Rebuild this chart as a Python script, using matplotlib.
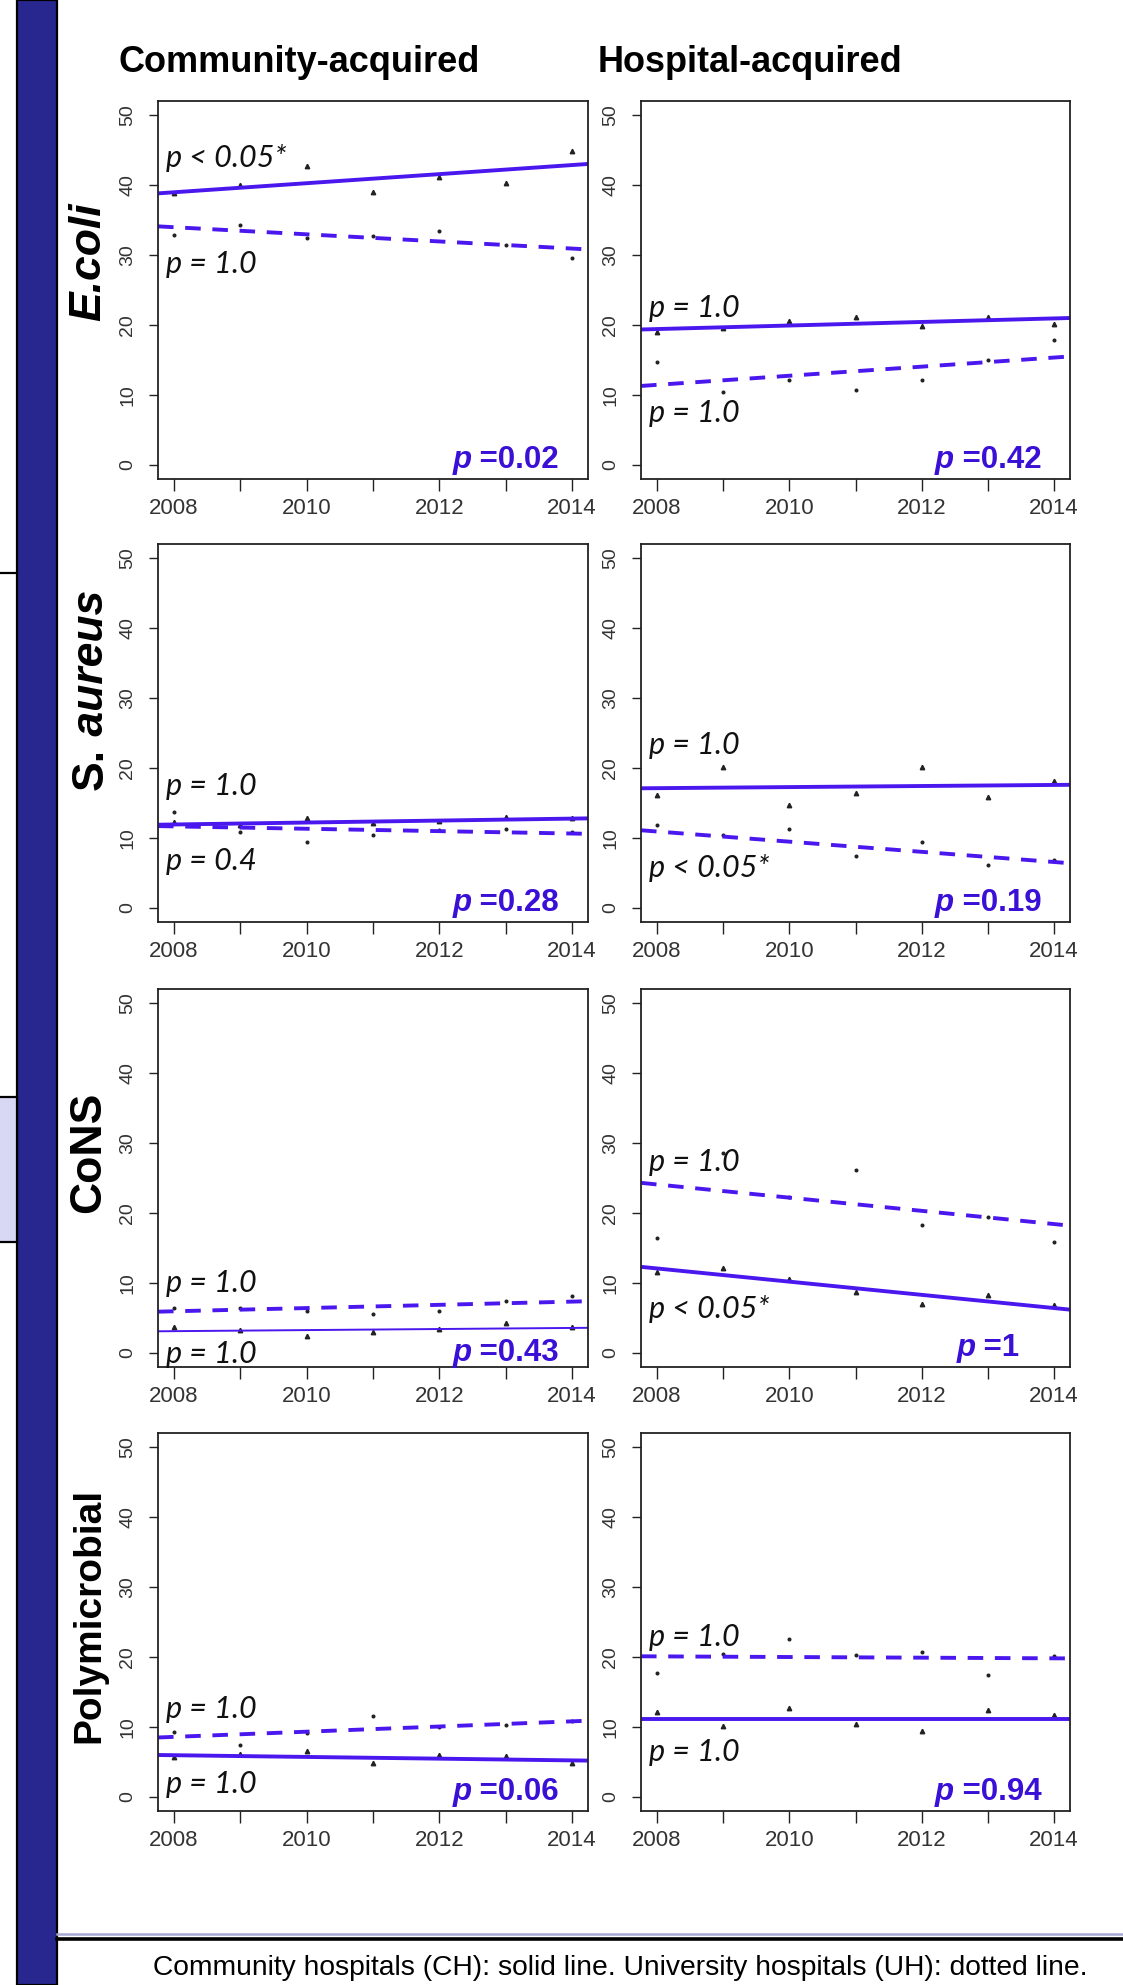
import matplotlib
matplotlib.use("Agg")
import matplotlib.pyplot as plt
from matplotlib import font_manager
from matplotlib.patches import Rectangle
from matplotlib.lines import Line2D
from matplotlib.offsetbox import TextArea, HPacker, AnchoredOffsetbox

W, H = 1123, 1985

years = [2008, 2009, 2010, 2011, 2012, 2013, 2014]
organisms = ["E.coli", "S. aureus", "CoNS", "Polymicrobial"]

# community-acquired, CH = community hospitals (triangles), UH = university hospitals (dots)
ca_ch = [[38.8, 40.0, 42.7, 39.0, 41.1, 40.3, 44.9],
         [12.3, 11.9, 12.9, 12.1, 12.5, 13.0, 12.9],
         [3.7, 3.3, 2.4, 3.0, 3.4, 4.3, 3.7],
         [5.7, 6.2, 6.6, 4.9, 6.0, 5.9, 4.9]]
ca_uh = [[32.8, 34.3, 32.4, 32.7, 33.4, 31.4, 29.6],
         [13.7, 10.8, 9.4, 10.4, 11.2, 11.3, 10.8],
         [6.5, 6.4, 6.0, 5.6, 6.0, 7.5, 8.2],
         [9.3, 7.4, 9.1, 11.6, 10.0, 10.3, 10.8]]
# regression lines, value in 2008 and in 2014
ca_ch_fit = [(38.96, 42.85), (11.93, 12.77), (3.12, 3.58), (5.97, 5.23)]
ca_uh_fit = [(33.97, 30.92), (11.66, 10.64), (5.96, 7.34), (8.59, 10.81)]
ca_ch_note = ["p < 0.05*", "p = 1.0", "p = 1.0", "p = 1.0"]
ca_uh_note = ["p = 1.0", "p = 0.4", "p = 1.0", "p = 1.0"]
ca_p = ["0.02", "0.28", "0.43", "0.06"]

# hospital-acquired
ha_ch = [[18.95, 19.6, 20.5, 21.2, 19.9, 21.2, 20.2],
         [16.2, 20.2, 14.7, 16.5, 20.2, 15.9, 18.1],
         [11.6, 12.1, 10.6, 8.7, 7.0, 8.3, 6.8],
         [12.1, 10.1, 12.7, 10.5, 9.4, 12.5, 11.7]]
ha_uh = [[14.7, 10.4, 12.2, 10.7, 12.2, 15.0, 17.8],
         [11.9, 10.5, 11.3, 7.4, 9.4, 6.2, 6.9],
         [16.4, 28.6, 22.3, 26.2, 18.3, 19.5, 15.8],
         [17.7, 20.4, 22.6, 20.3, 20.7, 17.4, 20.1]]
ha_ch_fit = [(19.42, 20.94), (17.12, 17.58), (12.08, 6.42), (11.2, 11.2)]
ha_uh_fit = [(11.45, 15.35), (10.93, 6.57), (24.08, 18.42), (20.09, 19.81)]
ha_ch_note = ["p = 1.0", "p = 1.0", "p < 0.05*", "p = 1.0"]
ha_uh_note = ["p = 1.0", "p < 0.05*", "p = 1.0", "p = 1.0"]
ha_p = ["0.42", "0.19", "1", "0.94"]

# where the p notes sit (baseline, data units)
ca_ch_note_y = [42.6, 16.1, -1.4, 0.6]
ca_uh_note_y = [27.4, 5.4, 8.7, 11.3]
ha_ch_note_y = [21.2, 22.0, 5.0, 5.1]
ha_uh_note_y = [6.2, 4.4, 26.0, 21.6]
ca_p_y = [-0.3, -0.3, -1.0, -0.3]
ha_p_y = [-0.3, -0.3, -0.3, -0.3]

installed = {f.name for f in font_manager.fontManager.ttflist}


def pick(*names):
    for n in names:
        if n in installed:
            return n
    return "DejaVu Sans"


SANS = pick("Liberation Sans", "Arial", "DejaVu Sans")
NARROW = pick("Liberation Sans Narrow", "Liberation Sans")
HAS_NARROW = NARROW == "Liberation Sans Narrow"
NOTE = pick("Lato", "Open Sans", "Liberation Sans")

LINE = "#4A17EE"
PCOL = "#3A0FD6"
INK = "#222222"

fig = plt.figure(figsize=(W / 100, H / 100), dpi=100)


def box(left, top, width, height):
    return [left / W, 1 - (top + height) / H, width / W, height / H]


col_left = [158, 641]
col_width = [430, 429]
row_top = [101, 544, 989, 1433]
row_h = 378


def overall_p(ax, value, y):
    size = 27 if HAS_NARROW else 22.5
    p = TextArea("p", textprops=dict(family=NARROW, weight="bold", style="italic",
                                     size=size, color=PCOL))
    rest = TextArea(" =" + value, textprops=dict(family=NARROW, weight="bold",
                                                 size=size, color=PCOL))
    pack = HPacker(children=[p, rest], align="baseline", pad=0, sep=0)
    # anchor at the bottom of the descender, i.e. a bit under the baseline
    anc = AnchoredOffsetbox(loc="lower center", child=pack, pad=0, borderpad=0,
                            frameon=False, bbox_to_anchor=(2013.0, y - 1.1),
                            bbox_transform=ax.transData)
    ax.add_artist(anc)


def panel(ax, ch, uh, ch_fit, uh_fit, ch_note, uh_note, ch_y, uh_y, pval, p_y, thin=False):
    ax.set_xlim(2007.76, 2014.24)
    ax.set_ylim(-2, 52)
    ax.plot(years, ch, linestyle="none", marker="^", ms=3.2, color=INK)
    ax.plot(years, uh, linestyle="none", marker="o", ms=1.9, color=INK)
    ax.axline((years[0], ch_fit[0]), (years[-1], ch_fit[1]), color=LINE,
              lw=1.4 if thin else 2.8)
    ax.axline((years[0], uh_fit[0]), (years[-1], uh_fit[1]), color=LINE,
              lw=2.8, dashes=(4, 3))
    for txt, yy in ((ch_note, ch_y), (uh_note, uh_y)):
        ax.text(2007.88, yy, txt, family=NOTE, style="italic", fontsize=22,
                ha="left", va="baseline", color="#111111")
    overall_p(ax, pval, p_y)

    ax.set_xticks(years)
    ax.set_xticklabels([str(y) if y % 2 == 0 else "" for y in years],
                       family=NARROW, fontsize=20 if HAS_NARROW else 16)
    ax.set_yticks([0, 10, 20, 30, 40, 50])
    ax.set_yticklabels(["0", "10", "20", "30", "40", "50"], rotation=90,
                       va="center", family=SANS, fontsize=14)
    ax.tick_params(axis="x", length=8.5, width=1.0, pad=5, color=INK, labelcolor="#333333")
    ax.tick_params(axis="y", length=6.5, width=1.0, pad=9, color=INK, labelcolor="#333333")
    for s in ax.spines.values():
        s.set_linewidth(1.3)
        s.set_color(INK)


for r in range(4):
    ax_ca = fig.add_axes(box(col_left[0], row_top[r], col_width[0], row_h))
    panel(ax_ca, ca_ch[r], ca_uh[r], ca_ch_fit[r], ca_uh_fit[r], ca_ch_note[r],
          ca_uh_note[r], ca_ch_note_y[r], ca_uh_note_y[r], ca_p[r], ca_p_y[r],
          thin=(r == 2))
    ax_ha = fig.add_axes(box(col_left[1], row_top[r], col_width[1], row_h))
    panel(ax_ha, ha_ch[r], ha_uh[r], ha_ch_fit[r], ha_uh_fit[r], ha_ch_note[r],
          ha_uh_note[r], ha_ch_note_y[r], ha_uh_note_y[r], ha_p[r], ha_p_y[r])

# column titles
fig.text(299 / W, 1 - 72 / H, "Community-acquired", family=SANS, weight="bold",
         fontsize=26, ha="center", va="baseline")
fig.text(750 / W, 1 - 72 / H, "Hospital-acquired", family=SANS, weight="bold",
         fontsize=26, ha="center", va="baseline")

# row titles
fig.text(89 / W, 1 - 262 / H, organisms[0], family=SANS, weight="bold", style="italic",
         fontsize=32, rotation=90, ha="center", va="center")
fig.text(103 / W, 1 - 748 / H, "S.", family=SANS, weight="bold", fontsize=32,
         rotation=90, rotation_mode="anchor", ha="right", va="baseline")
fig.text(103 / W, 1 - 748 / H, " aureus", family=SANS, weight="bold", style="italic",
         fontsize=32, rotation=90, rotation_mode="anchor", ha="left", va="baseline")
fig.text(89 / W, 1 - 1152 / H, organisms[2], family=SANS, weight="bold",
         fontsize=32, rotation=90, ha="center", va="center")
fig.text(89 / W, 1 - 1615 / H, organisms[3], family=SANS, weight="bold",
         fontsize=28, rotation=90, ha="center", va="center")

# slide furniture on the left and the footer rule
fig.patches.append(Rectangle((17 / W, 0), 40 / W, 1, transform=fig.transFigure,
                             facecolor="#27278F", edgecolor="black", lw=1.6))
fig.patches.append(Rectangle((-5 / W, 1 - 1242 / H), 22 / W, 145 / H,
                             transform=fig.transFigure, facecolor="#D8D8F4",
                             edgecolor="black", lw=1.6))
fig.lines.append(Line2D([0, 17 / W], [1 - 573 / H] * 2, transform=fig.transFigure,
                        color="black", lw=1.6))
fig.lines.append(Line2D([57 / W, 1], [1 - 1934 / H] * 2, transform=fig.transFigure,
                        color="#A8A8D4", lw=1.8))
fig.lines.append(Line2D([57 / W, 1], [1 - 1939 / H] * 2, transform=fig.transFigure,
                        color="black", lw=2.6))

fig.text(620 / W, 1 - 1975 / H,
         "Community hospitals (CH): solid line. University hospitals (UH): dotted line.",
         family=NARROW, fontsize=21.5 if HAS_NARROW else 20.3, ha="center", va="baseline")

fig.savefig("out.png", dpi=100)
